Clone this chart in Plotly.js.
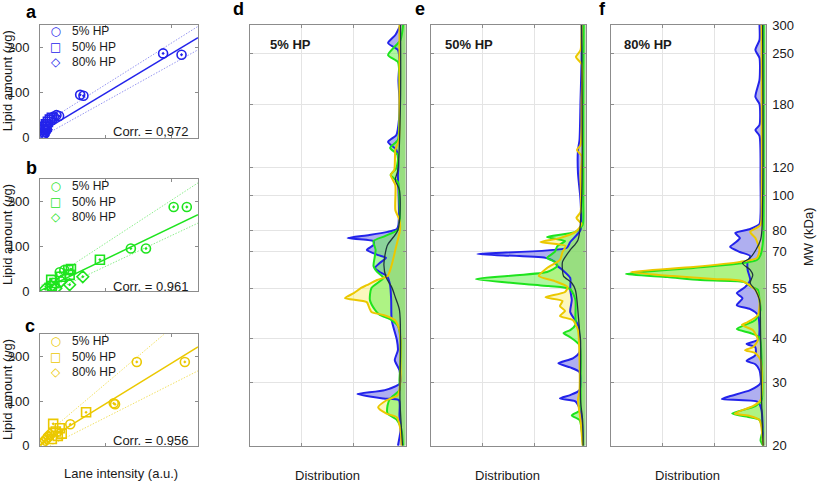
<!DOCTYPE html>
<html><head><meta charset="utf-8">
<script src="https://cdn.plot.ly/plotly-3.0.1.min.js"></script>
<style>html,body{margin:0;padding:0;background:#fff}#chart{width:817px;height:484px}</style>
</head><body><div id="chart"></div>
<script>
// ---------- Scatter panels (lane intensity vs lipid amount) ----------
const legendLabels = ['5% HP', '50% HP', '80% HP'];
const corrTexts = ['Corr. = 0,972', 'Corr. = 0.961', 'Corr. = 0.956'];

// panel a (blue)
const aCircX = [1.87, 2.15, 0.61, 0.66, 0.21, 0.25, 0.29];
const aCircY = [187, 184, 95, 93, 47, 50, 48];
const aSqX = [0.05, 0.07, 0.09, 0.10, 0.12, 0.15, 0.18];
const aSqY = [18, 24, 30, 27, 35, 40, 44];
const aDiaX = [0.03, 0.04, 0.05, 0.06, 0.08, 0.09];
const aDiaY = [2, 4, 6, 10, 14, 18];
const aFitX = [0.02, 2.4], aFitY = [13, 222];
const aHiX = [0.02, 2.4], aHiY = [28, 247];
const aLoX = [0.05, 2.4], aLoY = [4, 195];

// panel b (green)
const bCircX = [2.03, 2.23, 1.38, 1.61, 0.37, 0.30];
const bCircY = [188, 188, 95, 95, 47, 42];
const bSqX = [0.91, 0.47, 0.43, 0.32, 0.45, 0.17, 0.22, 0.18];
const bSqY = [70, 49, 47, 32, 36, 25, 18, 11];
const bDiaX = [0.65, 0.45, 0.32, 0.17, 0.24, 0.08];
const bDiaY = [32, 14, 22, 10, 6, 4];
const bFitX = [0.02, 2.4], bFitY = [2, 171];
const bHiX = [0.02, 2.4], bHiY = [13, 242];
const bLoX = [0.2, 2.4], bLoY = [0, 152];

// panel c (yellow)
const cCircX = [1.47, 2.20, 1.14, 1.12, 0.46];
const cCircY = [188, 188, 93, 95, 48];
const cSqX = [0.70, 0.20, 0.30, 0.33, 0.27, 0.18, 0.24];
const cSqY = [75, 49, 39, 27, 22, 15, 32];
const cDiaX = [0.02, 0.05, 0.08, 0.10, 0.13, 0.15];
const cDiaY = [3, 7, 12, 16, 20, 25];
const cFitX = [0.02, 2.4], cFitY = [5, 222];
const cHiX = [0.02, 1.9], cHiY = [17, 252];
const cLoX = [0.15, 2.4], cLoY = [0, 168];

// ---------- Distribution panels (MW in kDa vs distribution) ----------
const mwTicks = [20, 30, 40, 55, 70, 80, 100, 120, 180, 250, 300];
const panelTitles = ['5% HP', '50% HP', '80% HP'];

// d: 5% HP
const dBlueMW = [300,281.3,267.2,255.4,239.5,210.6,185.1,162.8,147.8,141.3,134.2,121.8,114.2,103.7,91.2,82.8,80.7,79.2,77.6,76.1,74.7,72.8,70.5,68.2,67.0,64.8,62.8,61.2,59.6,56.2,51.1,44.9,39.5,37.0,34.7,32.5,29.9,28.6,27.9,27.1,26.8,24.3,22.1,20];
const dBlueV = [0.10,0.20,0.34,0.15,0.12,0.14,0.12,0.13,0.18,0.34,0.18,0.14,0.15,0.14,0.13,0.14,0.17,0.35,0.70,1.12,0.62,0.62,0.75,0.53,0.38,0.50,0.59,0.50,0.36,0.30,0.28,0.27,0.17,0.15,0.21,0.12,0.11,0.40,0.93,0.43,0.13,0.12,0.10,0.15];
const dGreenMW = [300,272.4,247.3,236.4,210.6,162.8,143.1,136.0,129.9,119.5,114.2,109.2,97.2,82.8,80.2,77.1,74.7,70.5,67.0,63.6,61.2,58.9,55.2,51.1,47.9,46.4,45.2,43.2,39.5,34.7,30.5,28.6,27.1,25.9,24.6,23.6,22.1,20];
const dGreenV = [0.05,0.10,0.34,0.15,0.12,0.12,0.15,0.30,0.15,0.18,0.29,0.15,0.12,0.12,0.15,0.40,0.62,0.58,0.60,0.62,0.55,0.43,0.66,0.69,0.59,0.50,0.30,0.15,0.10,0.10,0.12,0.12,0.30,0.35,0.35,0.17,0.08,0.05];
const dYellowMW = [300,255.4,224.5,185.1,143.1,134.2,118.0,114.2,107.1,91.2,85.5,80.2,70.5,64.0,59.6,58.1,56.2,55.2,53.4,51.7,50.4,48.5,47.3,46.4,44.9,42.1,39.5,34.7,30.5,27.7,26.8,25.6,24.6,24.0,22.1,20];
const dYellowV = [0.12,0.12,0.12,0.12,0.13,0.20,0.22,0.29,0.20,0.20,0.12,0.11,0.20,0.27,0.35,0.55,0.75,0.86,1.00,1.17,0.75,0.70,0.66,0.43,0.21,0.12,0.10,0.10,0.10,0.15,0.37,0.53,0.37,0.17,0.10,0.08];
const dDarkMW = [300,185.1,118.0,110.6,103.7,80.2,72.8,68.2,64.0,59.2,55.5,52.0,47.9,39.5,26.8,22.1,20];
const dDarkV = [0.10,0.10,0.15,0.20,0.12,0.15,0.35,0.40,0.42,0.38,0.27,0.20,0.12,0.10,0.11,0.08,0.06];

// e: 50% HP
const eBlueMW = [300,239.5,185.1,143.1,134.2,115.7,97.2,80.2,74.2,71.4,68.7,67.0,65.3,63.6,62.0,58.9,54.5,51.1,47.3,43.5,39.5,36.5,35.1,34.0,33.1,32.1,28.6,27.7,27.1,26.6,25.1,20];
const eBlueV = [0.08,0.08,0.10,0.12,0.15,0.15,0.10,0.10,0.30,0.37,2.10,0.78,0.60,0.55,0.45,0.30,0.30,0.27,0.30,0.15,0.12,0.12,0.25,0.53,0.30,0.12,0.12,0.30,0.50,0.20,0.10,0.05];
const eGreenMW = [300,185.1,97.2,82.8,79.2,76.6,74.7,72.3,69.6,67.0,65.3,63.6,61.2,58.5,55.9,54.8,51.1,46.4,43.5,42.1,41.3,40.2,38.2,30.5,25.1,24.3,23.6,20];
const eGreenV = [0.04,0.05,0.05,0.06,0.20,0.75,0.40,0.55,0.60,0.75,0.60,0.55,0.75,2.13,0.72,0.30,0.20,0.20,0.20,0.30,0.43,0.30,0.12,0.10,0.12,0.27,0.12,0.05];
const eYellowMW = [300,255.4,244.1,233.4,185.1,138.6,134.2,129.1,114.2,90.0,86.6,83.3,79.2,76.1,74.2,72.3,69.6,66.1,62.8,59.6,57.7,55.5,53.8,52.0,50.8,49.1,47.6,46.1,44.9,42.1,34.7,28.6,26.8,23.6,20];
const eYellowV = [0.08,0.10,0.19,0.08,0.08,0.10,0.17,0.08,0.10,0.10,0.18,0.08,0.20,0.50,0.88,0.39,0.45,0.50,0.75,0.91,0.60,0.35,0.40,0.78,0.45,0.50,0.40,0.50,0.25,0.15,0.12,0.12,0.15,0.10,0.06];
const eDarkMW = [300,97.2,75.2,70.5,65.3,62.0,59.6,57.0,54.5,51.1,42.1,39.5,26.8,23.6,20];
const eDarkV = [0.08,0.08,0.15,0.30,0.45,0.45,0.43,0.27,0.20,0.17,0.12,0.10,0.10,0.06,0.05];

// f: 80% HP
const fBlueMW = [300,272.4,255.4,242.6,210.6,188.8,180.4,157.6,152.6,146.9,110.6,88.3,83.3,80.7,78.6,76.1,73.7,71.9,69.6,67.8,65.3,62.0,58.1,55.5,53.4,51.7,49.4,48.2,46.4,42.1,39.5,38.5,37.7,35.8,34.5,33.8,32.5,29.9,28.6,27.5,27.0,26.5,25.1,20];
const fBlueV = [0.12,0.12,0.20,0.12,0.12,0.20,0.12,0.12,0.20,0.12,0.10,0.10,0.12,0.30,0.59,0.50,0.60,0.69,0.50,0.30,0.35,0.35,0.30,0.40,0.56,0.45,0.56,0.30,0.15,0.12,0.15,0.37,0.20,0.20,0.37,0.20,0.12,0.10,0.30,0.70,0.85,0.15,0.08,0.05];
const fGreenMW = [300,97.2,75.2,68.2,66.1,64.8,62.8,60.4,59.2,58.1,57.4,55.9,54.5,51.1,47.9,44.9,42.4,41.3,40.2,34.7,26.8,25.8,24.6,24.0,23.6,22.1,20.7,20];
const fGreenV = [0.04,0.04,0.05,0.10,0.17,0.43,1.40,2.71,1.90,1.27,0.43,0.30,0.15,0.12,0.10,0.20,0.56,0.30,0.12,0.08,0.08,0.20,0.65,0.30,0.12,0.06,0.10,0.05];
const fYellowMW = [300,97.2,82.8,79.2,76.1,70.5,67.0,65.3,63.2,61.2,59.6,58.5,57.7,54.5,51.1,46.4,44.3,43.5,42.1,39.5,37.7,37.0,36.3,34.7,26.8,25.8,24.6,24.2,23.6,20];
const fYellowV = [0.08,0.08,0.10,0.30,0.20,0.12,0.17,0.50,1.40,2.61,1.80,1.00,0.45,0.20,0.12,0.15,0.35,0.46,0.25,0.15,0.25,0.40,0.20,0.10,0.10,0.25,0.60,0.30,0.12,0.05];
const fDarkMW = [300,97.2,75.2,67.0,64.8,62.0,60.0,57.0,54.5,51.1,42.1,26.8,20];
const fDarkV = [0.06,0.06,0.10,0.30,0.45,0.30,0.25,0.30,0.20,0.12,0.10,0.08,0.05];

// ---------- styling ----------
const W = 817, H = 484;
const FONT = 'Liberation Sans, Arial, Helvetica, sans-serif';
const TXT = '#1a1a1a';
const AXC = '#8c8c8c';
const COL = {
  blue:   {line: 'rgb(35,35,235)', light: 'rgb(150,150,240)', fill: 'rgba(95,95,225,0.5)'},
  green:  {line: 'rgb(30,228,30)', light: 'rgb(140,238,140)', fill: 'rgba(110,240,85,0.55)'},
  yellow: {line: 'rgb(235,200,0)', light: 'rgb(242,225,100)', fill: 'rgba(248,235,90,0.4)'}
};
const DARK = 'rgb(30,55,60)';
const PX = x => x / W, PY = y => 1 - y / H;

const traces = [];
function scatterPanel(n, c, circ, sq, dia, fit, hi, lo) {
  const xa = 'x' + (n === 1 ? '' : n), ya = 'y' + (n === 1 ? '' : n);
  traces.push({x: hi[0], y: hi[1], xaxis: xa, yaxis: ya, mode: 'lines', line: {color: c.light, width: 1, dash: '1.5px,1.5px'}, hoverinfo: 'skip'});
  traces.push({x: lo[0], y: lo[1], xaxis: xa, yaxis: ya, mode: 'lines', line: {color: c.light, width: 1, dash: '1.5px,1.5px'}, hoverinfo: 'skip'});
  traces.push({x: fit[0], y: fit[1], xaxis: xa, yaxis: ya, mode: 'lines', line: {color: c.line, width: 1.5}, hoverinfo: 'skip'});
  const syms = ['circle-open-dot', 'square-open-dot', 'diamond-open-dot'];
  [circ, sq, dia].forEach((s, i) => traces.push({
    x: s[0], y: s[1], xaxis: xa, yaxis: ya, mode: 'markers', name: legendLabels[i],
    marker: {symbol: syms[i], size: 9, color: c.line, line: {width: 1.6, color: c.line}}
  }));
}
scatterPanel(1, COL.blue, [aCircX, aCircY], [aSqX, aSqY], [aDiaX, aDiaY], [aFitX, aFitY], [aHiX, aHiY], [aLoX, aLoY]);
scatterPanel(2, COL.green, [bCircX, bCircY], [bSqX, bSqY], [bDiaX, bDiaY], [bFitX, bFitY], [bHiX, bHiY], [bLoX, bLoY]);
scatterPanel(3, COL.yellow, [cCircX, cCircY], [cSqX, cSqY], [cDiaX, cDiaY], [cFitX, cFitY], [cHiX, cHiY], [cLoX, cLoY]);

function distPanel(n, blue, green, yellow, dark) {
  const xa = 'x' + n, ya = 'y' + n;
  [[blue, COL.blue], [yellow, COL.yellow], [green, COL.green]].forEach(([s, c]) => traces.push({
    x: s[1], y: s[0], xaxis: xa, yaxis: ya, mode: 'lines', fill: 'tozerox', fillcolor: c.fill,
    line: {width: 0, shape: 'spline', smoothing: 0.6}, hoverinfo: 'skip'
  }));
  [[blue, COL.blue], [green, COL.green], [yellow, COL.yellow]].forEach(([s, c]) => traces.push({
    x: s[1], y: s[0], xaxis: xa, yaxis: ya, mode: 'lines',
    line: {color: c.line, width: 2, shape: 'spline', smoothing: 0.6}
  }));
  traces.push({x: dark[1], y: dark[0], xaxis: xa, yaxis: ya, mode: 'lines',
    line: {color: DARK, width: 1.3, shape: 'spline', smoothing: 0.8}});
}
distPanel(4, [dBlueMW, dBlueV], [dGreenMW, dGreenV], [dYellowMW, dYellowV], [dDarkMW, dDarkV]);
distPanel(5, [eBlueMW, eBlueV], [eGreenMW, eGreenV], [eYellowMW, eYellowV], [eDarkMW, eDarkV]);
distPanel(6, [fBlueMW, fBlueV], [fGreenMW, fGreenV], [fYellowMW, fYellowV], [fDarkMW, fDarkV]);
traces.forEach(t => t.showlegend = false);

const base = {showline: true, linecolor: AXC, linewidth: 1, mirror: 'ticks', ticks: 'inside', ticklen: 3,
  tickcolor: AXC, zeroline: false, showgrid: false, fixedrange: true,
  tickfont: {family: FONT, size: 13, color: TXT}};
const sx = (d, a) => Object.assign({}, base, {domain: d, anchor: a, range: [0, 2.4], tickvals: [0, 1, 2], showticklabels: false});
const sy = (d, a) => Object.assign({}, base, {domain: d, anchor: a, range: [0, 250], tickvals: [0, 100, 200], ticklabelstandoff: 7});
const dx = (d, a) => Object.assign({}, base, {domain: d, anchor: a, range: [3, 0], tickvals: [1, 2], showticklabels: false,
  showgrid: true, gridcolor: '#e4e4e4'});
const dy = (d, a, lab) => Object.assign({}, base, {domain: d, anchor: a, type: 'log', range: [Math.log10(20), Math.log10(300)],
  tickvals: mwTicks, ticktext: mwTicks.map(String), showticklabels: lab, side: lab ? 'right' : 'left',
  ticklabelstandoff: 3, showgrid: true, gridcolor: '#e4e4e4'});

const sxD = [PX(40), PX(198)];
const dyD = [PY(445.7), PY(25)];
const layout = {
  width: W, height: H, autosize: false, margin: {l: 0, r: 0, t: 0, b: 0},
  paper_bgcolor: '#fff', plot_bgcolor: '#fff', showlegend: false,
  font: {family: FONT, color: TXT},
  xaxis: sx(sxD, 'y'), yaxis: sy([PY(137.7), PY(25)], 'x'),
  xaxis2: sx(sxD, 'y2'), yaxis2: sy([PY(291), PY(179.3)], 'x2'),
  xaxis3: sx(sxD, 'y3'), yaxis3: sy([PY(445.7), PY(334.3)], 'x3'),
  xaxis4: dx([PX(250), PX(405.7)], 'y4'), yaxis4: dy(dyD, 'x4', false),
  xaxis5: dx([PX(431), PX(585.7)], 'y5'), yaxis5: dy(dyD, 'x5', false),
  xaxis6: dx([PX(610.7), PX(765.7)], 'y6'), yaxis6: dy(dyD, 'x6', true),
  annotations: []
};
const A = layout.annotations;
function ann(text, x, y, o) {
  A.push(Object.assign({text: text, x: PX(x), y: PY(y), xref: 'paper', yref: 'paper', showarrow: false,
    xanchor: 'center', yanchor: 'middle', font: {family: FONT, size: 13, color: TXT}}, o || {}));
}
// panel letters
[['a', 31, 12], ['b', 31, 168.5], ['c', 30, 325.5], ['d', 238, 9.5], ['e', 420, 9.5], ['f', 602, 9.5]]
  .forEach(([t, x, y]) => ann('<b>' + t + '</b>', x, y, {font: {family: FONT, size: 18, color: '#000'}}));
// distribution panel titles
[[268, 44], [443, 44], [622, 44]].forEach(([x, y], i) =>
  ann('<b>' + panelTitles[i] + '</b>', x, y, {xanchor: 'left'}));
// scatter legends (one block of symbols and one block of labels per panel)
const legSym = ['○', '□', '◇'];
const legCols = [COL.blue.line, COL.green.line, COL.yellow.line];
[25, 179.3, 334.3].forEach((top, p) => {
  ann(legSym.join('<br>'), 55, top + 22, {font: {family: 'DejaVu Sans', size: 12, color: legCols[p]}});
  ann(legendLabels.join('<br>'), 70, top + 22, {xanchor: 'left', align: 'left', font: {family: FONT, size: 12, color: TXT}});
});
// correlation texts
[131, 286, 440].forEach((y, i) => ann(corrTexts[i], 191, y, {xanchor: 'right'}));
// axis titles
[81.3, 235, 390].forEach(y => ann('Lipid amount (<i>μ</i>g)', 7, y, {textangle: -90}));
ann('Lane intensity (a.u.)', 121, 473);
[327.5, 507.5, 687.5].forEach(x => ann('Distribution', x, 475));
ann('MW (kDa)', 808, 237, {textangle: -90});

Plotly.newPlot('chart', traces, layout, {displayModeBar: false, staticPlot: true});
</script>
</body></html>
